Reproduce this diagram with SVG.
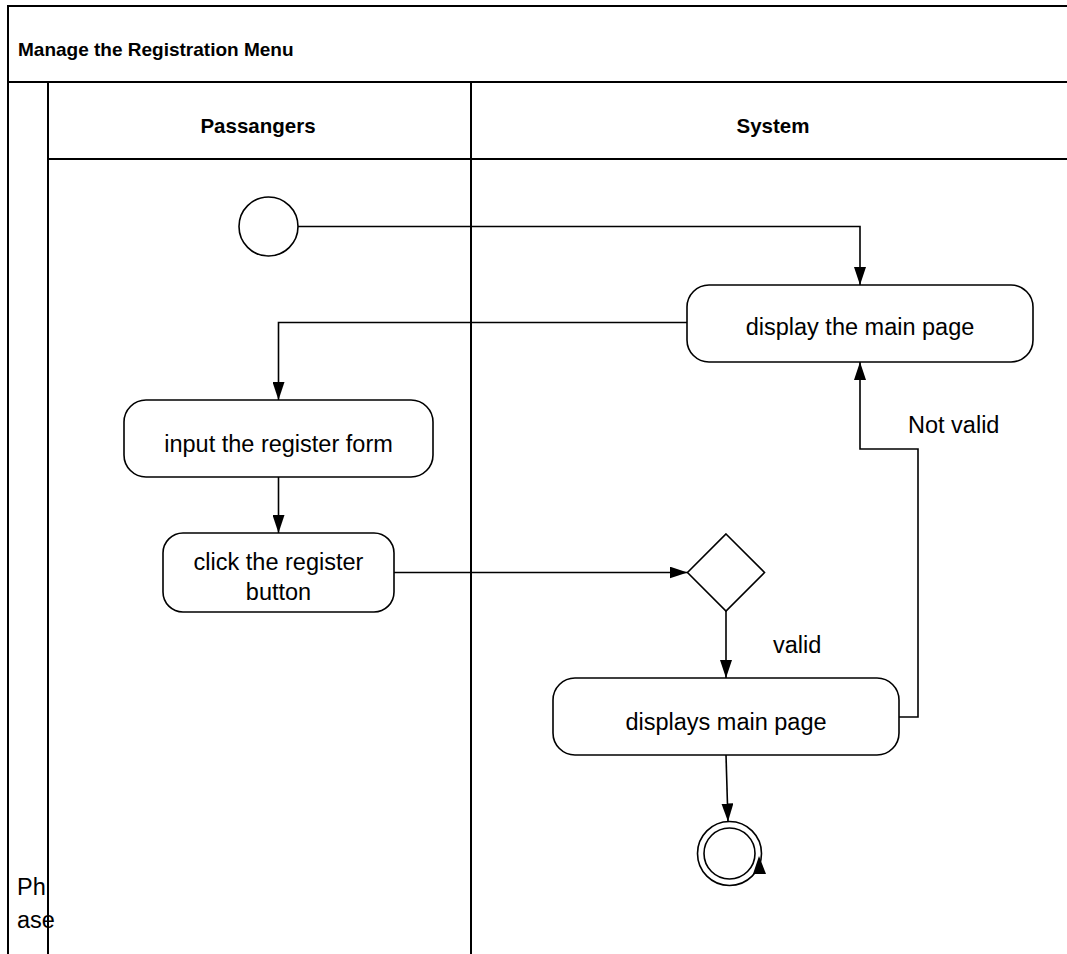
<svg xmlns="http://www.w3.org/2000/svg" width="1067" height="954" viewBox="0 0 1067 954">
<style>
.lane{stroke:#000;stroke-width:2;fill:none}
.shape{fill:#fff;stroke:#000;stroke-width:1.6}
.conn{fill:none;stroke:#000;stroke-width:1.6}
.t{font-family:"Liberation Sans",Arial,sans-serif;font-size:23.5px;fill:#000}
.b{font-family:"Liberation Sans",Arial,sans-serif;font-weight:bold;fill:#000}
</style>
<defs>
<marker id="arr" markerUnits="userSpaceOnUse" markerWidth="18" markerHeight="12" refX="18" refY="6" orient="auto">
<path d="M0,0 L18,6 L0,12 z" fill="#000"/>
</marker>
</defs>
<rect width="1067" height="954" fill="#fff"/>
<g id="pool">
<path class="lane" d="M8,954 V6 H1067 M8,82 H1067 M48,82 V954 M48,159 H1067 M471,82 V954"/>
<text class="b" x="18" y="56" font-size="19">Manage the Registration Menu</text>
<text class="b" x="258" y="133" font-size="20.5" text-anchor="middle">Passangers</text>
<text class="b" x="773" y="133" font-size="20.5" text-anchor="middle">System</text>
<text class="t" x="17" y="895">Ph</text>
<text class="t" x="17" y="928">ase</text>
</g>
<g id="start"><circle class="shape" cx="268.5" cy="226.5" r="29.5"/></g>
<g id="display-main"><rect class="shape" x="687" y="285" width="346" height="77" rx="22"/>
<text class="t" x="860" y="335" text-anchor="middle">display the main page</text></g>
<g id="input-form"><rect class="shape" x="124" y="400" width="309" height="77" rx="22"/>
<text class="t" x="278.5" y="452" text-anchor="middle">input the register form</text></g>
<g id="click-button"><rect class="shape" x="163" y="533" width="231" height="79" rx="20"/>
<text class="t" x="278.5" y="570" text-anchor="middle">click the register</text>
<text class="t" x="278.5" y="600" text-anchor="middle">button</text></g>
<g id="decision"><polygon class="shape" points="726,534 764.5,572.5 726,611 687.5,572.5"/></g>
<g id="displays-main"><rect class="shape" x="553" y="678" width="346" height="77" rx="22"/>
<text class="t" x="726" y="730" text-anchor="middle">displays main page</text></g>
<g id="final"><circle class="shape" cx="729.5" cy="853.5" r="32"/><circle class="shape" cx="729.5" cy="853.5" r="25.5"/></g>
<g id="connectors">
<path class="conn" d="M298,226.5 H860 V285" marker-end="url(#arr)"/>
<path class="conn" d="M687,322.5 H278.5 V400" marker-end="url(#arr)"/>
<path class="conn" d="M278.5,477 V533" marker-end="url(#arr)"/>
<path class="conn" d="M394,572.5 H687.5" marker-end="url(#arr)"/>
<path class="conn" d="M726,611 V678" marker-end="url(#arr)"/>
<path class="conn" d="M899,717 H918 V449 H860 V362" marker-end="url(#arr)"/>
<path class="conn" d="M726,755 L728,821.5" marker-end="url(#arr)"/>
<polygon points="759,856 753,874 766,874" fill="#000"/>
<text class="t" x="773" y="653">valid</text>
<text class="t" x="908" y="433">Not valid</text>
</g>
</svg>
